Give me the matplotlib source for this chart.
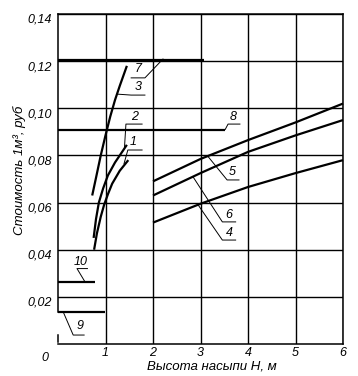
import matplotlib
matplotlib.use("Agg")
import matplotlib.pyplot as plt
import numpy as np

plt.rcParams['font.family'] = ['Liberation Sans', 'DejaVu Sans']
plt.rcParams['font.style'] = 'italic'

# ---- data ----
x_ticks = [1, 2, 3, 4, 5, 6]
x_tick_labels = ["1", "2", "3", "4", "5", "6"]
y_ticks = [0.02, 0.04, 0.06, 0.08, 0.10, 0.12, 0.14]
y_tick_labels = ["0,02", "0,04", "0,06", "0,08", "0,10", "0,12", "0,14"]

c1_x = [0.76, 0.82, 0.90, 0.97, 1.05, 1.14, 1.30, 1.48]
c1_y = [0.040, 0.047, 0.054, 0.059, 0.0635, 0.068, 0.0735, 0.078]
c2_x = [0.75, 0.80, 0.86, 0.95, 1.05, 1.20, 1.35, 1.45]
c2_y = [0.045, 0.053, 0.060, 0.066, 0.0715, 0.077, 0.0815, 0.0845]
c3_x = [0.72, 0.80, 0.90, 1.00, 1.10, 1.20, 1.30, 1.45]
c3_y = [0.063, 0.0705, 0.080, 0.0885, 0.0965, 0.1035, 0.1095, 0.118]

lin_x = [2, 3, 4, 5, 6]
c4_y = [0.0515, 0.0595, 0.0666, 0.0725, 0.078]
c5_y = [0.069, 0.0785, 0.0865, 0.094, 0.102]
c6_y = [0.063, 0.0725, 0.0815, 0.0885, 0.095]

c7_x = [0, 3.07]
c7_y = [0.1205, 0.1205]
c8_x = [0, 3.52]
c8_y = [0.091, 0.091]
c9_x = [0, 0.98]
c9_y = [0.0136, 0.0136]
c10_x = [0, 0.78]
c10_y = [0.0263, 0.0263]

fig = plt.figure(figsize=(3.58, 3.76), dpi=100)
ax = fig.add_axes([58/358, 1-344/376, (343-58)/358, (344-14)/376])
ax.set_xlim(0, 6)
ax.set_ylim(0, 0.14)

ax.set_xticks(x_ticks)
ax.set_xticklabels(x_tick_labels, fontsize=9)
ax.set_yticks(y_ticks)
ax.set_yticklabels(y_tick_labels, fontsize=9)
ax.tick_params(axis='x', length=0, pad=2)
ax.tick_params(axis='y', length=0, pad=4)
for t in ax.get_yticklabels():
    t.set_verticalalignment('top')

# grid
ax.grid(True, color='black', lw=1.0, zorder=1)
ax.set_axisbelow(True)

lw = 1.6
for xs, ys in [(c1_x, c1_y), (c2_x, c2_y), (c3_x, c3_y),
               (lin_x, c4_y), (lin_x, c5_y), (lin_x, c6_y),
               (c7_x, c7_y), (c8_x, c8_y), (c9_x, c9_y), (c10_x, c10_y)]:
    ax.plot(xs, ys, color='black', lw=lw, solid_capstyle='butt', zorder=3, clip_on=False)

# spines
for s in ['top', 'right', 'bottom']:
    ax.spines[s].set_linewidth(1.1)
ax.spines['left'].set_visible(False)
ax.plot([0, 0], [c9_y[0], 0.14], color='black', lw=1.1, clip_on=False, zorder=4)
ax.plot([0, 0], [0.001, 0.004], color='black', lw=1.1, clip_on=False, zorder=4)

ax.text(-0.27, -0.0035, "0", ha='center', va='top', fontsize=9)

ax.set_xlabel("Высота насыпи H, м", fontsize=9.5)
ax.xaxis.set_label_coords(0.54, -0.067, transform=ax.transAxes)
ax.xaxis.label.set_verticalalignment('center')
ax.set_ylabel("Стоимость 1м³, руб", fontsize=9.5)
ax.yaxis.set_label_coords(-0.135, 0.527, transform=ax.transAxes)
ax.yaxis.label.set_verticalalignment('center')

# labels with underline and leader
labels = [
    ("7", (1.68, 0.1165), [(2.21, 0.1209), (1.83, 0.1129), (1.54, 0.1129)]),
    ("3", (1.68, 0.1090), [(1.25, 0.1060), (1.54, 0.1056), (1.83, 0.1056)]),
    ("2", (1.62, 0.0965), [(1.40, 0.0835), (1.43, 0.0933), (1.77, 0.0933)]),
    ("1", (1.58, 0.0855), [(1.39, 0.0765), (1.47, 0.0823), (1.77, 0.0823)]),
    ("8", (3.68, 0.0962), [(3.52, 0.0910), (3.58, 0.0933), (3.83, 0.0933)]),
    ("5", (3.66, 0.0728), [(3.16, 0.0795), (3.56, 0.0696), (3.81, 0.0696)]),
    ("6", (3.60, 0.0546), [(2.84, 0.0710), (3.46, 0.0518), (3.74, 0.0518)]),
    ("4", (3.60, 0.0470), [(2.95, 0.0590), (3.46, 0.0441), (3.74, 0.0441)]),
    ("10", (0.48, 0.0347), [(0.57, 0.0263), (0.40, 0.0320), (0.62, 0.0320)]),
    ("9", (0.46, 0.0075), [(0.11, 0.0136), (0.32, 0.0038), (0.55, 0.0038)]),
]
for txt, (tx, ty), pts in labels:
    ax.text(tx, ty, txt, ha='center', va='center', fontsize=9, zorder=5)
    px = [p[0] for p in pts]
    py = [p[1] for p in pts]
    ax.plot(px, py, color='black', lw=0.7, zorder=5)

fig.savefig("out.png", dpi=100)
